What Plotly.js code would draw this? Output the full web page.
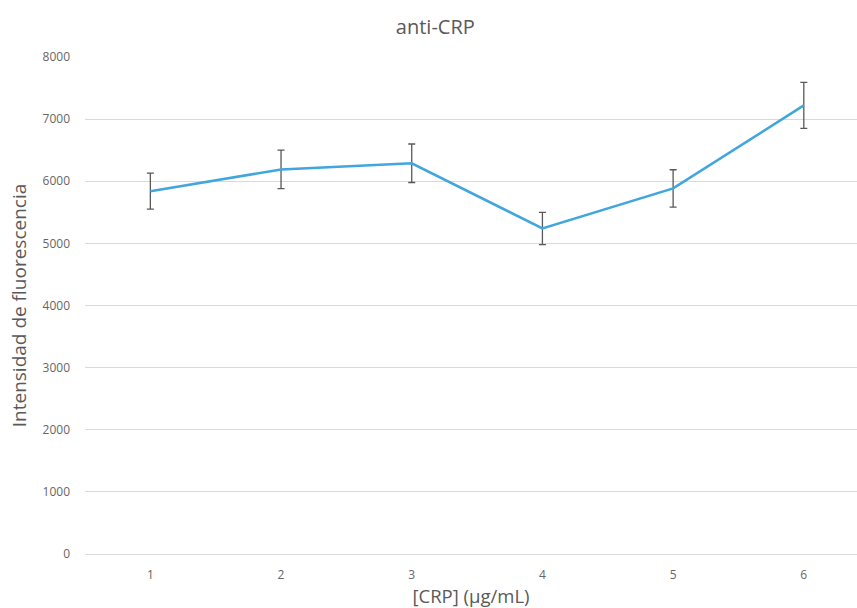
<!DOCTYPE html>
<html>
<head>
<meta charset="utf-8">
<script src="https://cdn.plot.ly/plotly-3.0.1.min.js"></script>
<style>html,body{margin:0;padding:0;background:#fff;}#chart{width:857px;height:608px;}</style>
</head>
<body>
<div id="chart"></div>
<script>
var categories = [1, 2, 3, 4, 5, 6];
var intensity = [5840, 6190, 6290, 5240, 5885, 7220];
var errors = [290, 310, 310, 260, 300, 370];
var yTicks = [0, 1000, 2000, 3000, 4000, 5000, 6000, 7000, 8000];

var trace = {
  x: categories,
  y: intensity,
  type: 'scatter',
  mode: 'lines',
  line: {color: '#41a6de', width: 2.6},
  error_y: {type: 'data', array: errors, visible: true, color: '#595959', thickness: 1.3, width: 3.5},
  hoverinfo: 'x+y'
};

var font = "'Open Sans', 'Noto Sans', sans-serif";
var layout = {
  width: 857, height: 608,
  margin: {l: 85, r: 0, t: 57, b: 54},
  paper_bgcolor: '#ffffff', plot_bgcolor: '#ffffff',
  showlegend: false,
  font: {family: font, color: '#595959'},
  title: {text: 'anti-CRP', x: 0.508, xanchor: 'center', y: 0.955, yanchor: 'middle',
          font: {family: font, size: 20, color: '#595959'}},
  xaxis: {
    range: [0.5, 6.407],
    tickvals: categories, ticktext: categories.map(String),
    showgrid: false, zeroline: false, showline: false,
    ticks: '', ticklen: 0,
    ticklabelstandoff: 12,
    tickfont: {family: font, size: 12, color: '#666666'},
    title: {text: '[CRP] (µg/mL)', font: {family: font, size: 18.5, color: '#595959'}, standoff: 8}
  },
  yaxis: {
    range: [0, 8000],
    tickvals: yTicks, ticktext: yTicks.map(String),
    showgrid: true, gridcolor: '#d9d9d9', gridwidth: 1,
    zeroline: true, zerolinecolor: '#d9d9d9', zerolinewidth: 1,
    showline: false, ticks: '',
    tickfont: {family: font, size: 12, color: '#666666'},
    ticklabelstandoff: 14,
    title: {text: 'Intensidad de fluorescencia', font: {family: font, size: 19, color: '#595959'}, standoff: 10}
  }
};

Plotly.newPlot('chart', [trace], layout, {displayModeBar: false, staticPlot: true});
</script>
</body>
</html>
